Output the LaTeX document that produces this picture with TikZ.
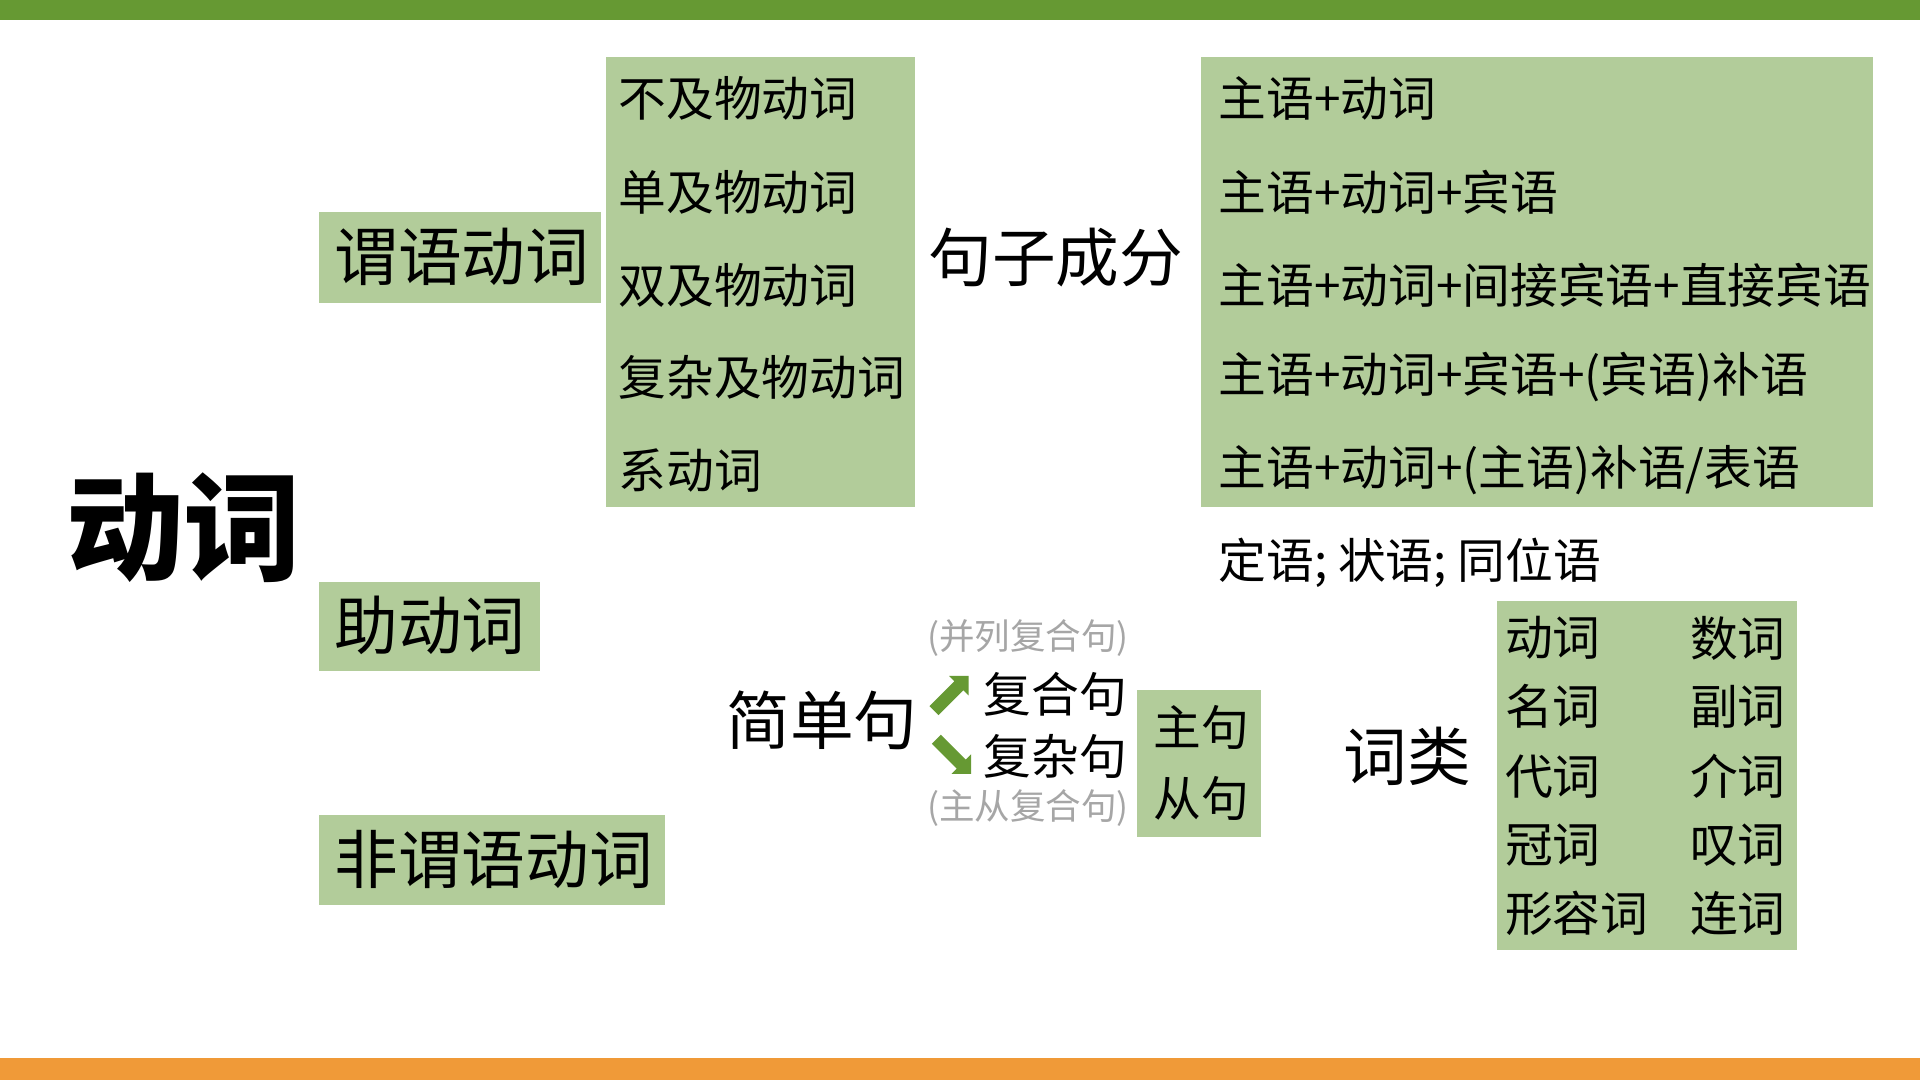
\documentclass[tikz,border=0pt]{standalone}
\usepackage{fontspec}
\setmainfont{Noto Sans CJK SC}
\usetikzlibrary{shapes.arrows}
\definecolor{barGreen}{HTML}{669933}
\definecolor{barOrange}{HTML}{F09A38}
\definecolor{boxGreen}{HTML}{B2CC9A}
\definecolor{noteGray}{HTML}{A6A6A6}
\begin{document}
\begin{tikzpicture}[x=1pt,y=-1pt,
 box/.style={fill=boxGreen, draw=none, anchor=north west, inner sep=0pt},
 t/.style={anchor=west, inner sep=0pt, font=\fontsize{39}{39}\selectfont},
 tl/.style={anchor=west, inner sep=0pt, font=\fontsize{52}{52}\selectfont},
 note/.style={anchor=west, inner sep=0pt, text=noteGray, font=\fontsize{29}{29}\selectfont},
 garrow/.style={single arrow, fill=barGreen, draw=none, inner sep=5pt, minimum height=40pt, single arrow head extend=6pt, single arrow tip angle=90}
]
\fill[white] (0,0) rectangle (1568,882);
\useasboundingbox (0,0) rectangle (1568,882);
\fill[barGreen] (0,0) rectangle (1568,16);
\fill[barOrange] (0,864) rectangle (1568,882);

% boxes
\node[box, minimum width=231pt, minimum height=74pt] (bWeiyu) at (260,173) {};
\node[box, minimum width=181pt, minimum height=73pt] (bZhu) at (260,475) {};
\node[box, minimum width=283pt, minimum height=74pt] (bFei) at (260,665) {};
\node[box, minimum width=252pt, minimum height=368pt] (bTypes) at (495,46) {};
\node[box, minimum width=548pt, minimum height=368pt] (bPat) at (981,46) {};
\node[box, minimum width=102pt, minimum height=120pt] (bZhuCong) at (928,563) {};
\node[box, minimum width=245pt, minimum height=285pt] (bCilei) at (1222,491) {};

% big title
\node[anchor=west, inner sep=0pt, font=\fontsize{96}{96}\selectfont\bfseries] (dongci) at (54,431) {动词};

% left column
\node[tl] (tWeiyu) at (273,210) {谓语动词};
\node[tl] (tZhu) at (273,511) {助动词};
\node[tl] (tFei) at (273,702) {非谓语动词};

% verb types
\node[t] (v1) at (505,80) {不及物动词};
\node[t] (v2) at (505,157) {单及物动词};
\node[t] (v3) at (505,233) {双及物动词};
\node[t] (v4) at (505,308) {复杂及物动词};
\node[t] (v5) at (505,384) {系动词};

\node[tl] (juzi) at (758,210) {句子成分};

% sentence patterns
\node[t] (p1) at (995,80) {主语+动词};
\node[t] (p2) at (995,157) {主语+动词+宾语};
\node[t] (p3) at (995,233) {主语+动词+间接宾语+直接宾语};
\node[t] (p4) at (995,308) {主语+动词+宾语+(宾语)补语};
\node[t] (p5) at (995,384) {主语+动词+(主语)补语/表语};

\node[t] (ding) at (995,460) {定语; 状语; 同位语};

% sentences
\node[tl] (jiandan) at (593,588) {简单句};
\node[note] (n1) at (757,521) {(并列复合句)};
\node[garrow, rotate=45] (a1) at (775,568) {};
\node[t] (fuhe) at (803,567) {复合句};
\node[garrow, rotate=-45] (a2) at (777,616) {};
\node[t] (fuza) at (803,618) {复杂句};
\node[note] (n2) at (757,660) {(主从复合句)};
\node[t] (zhuju) at (942,594) {主句};
\node[t] (congju) at (942,652) {从句};

% word classes
\node[tl] (cilei) at (1097,618) {词类};
\node[t] (c1) at (1229,521) {动词};
\node[t] (c2) at (1229,577) {名词};
\node[t] (c3) at (1229,634) {代词};
\node[t] (c4) at (1229,690) {冠词};
\node[t] (c5) at (1229,746) {形容词};
\node[t] (d1) at (1380,521) {数词};
\node[t] (d2) at (1380,577) {副词};
\node[t] (d3) at (1380,634) {介词};
\node[t] (d4) at (1380,690) {叹词};
\node[t] (d5) at (1380,746) {连词};
\end{tikzpicture}
\end{document}
